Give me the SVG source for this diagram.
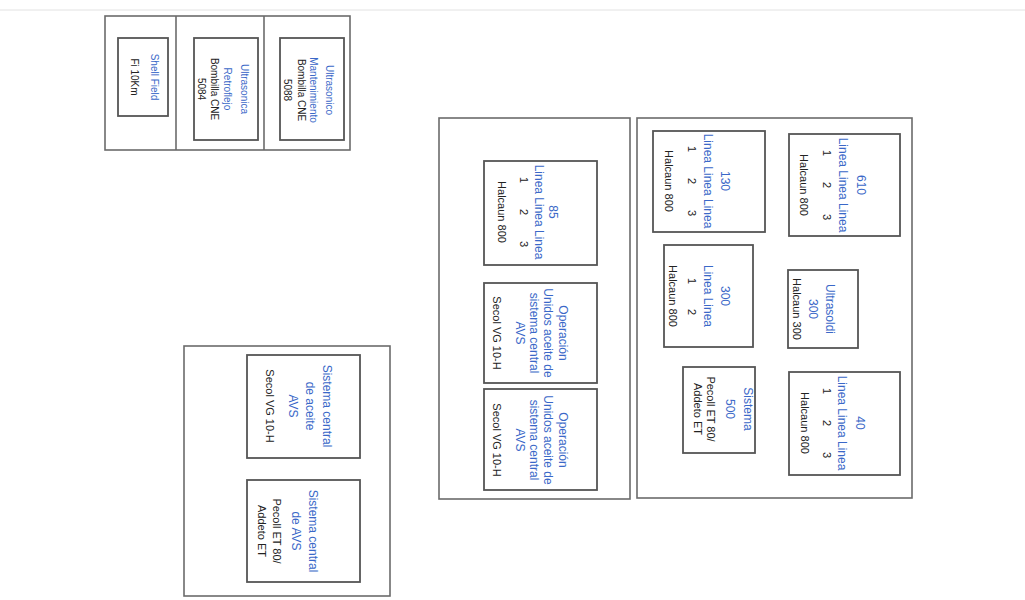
<svg xmlns="http://www.w3.org/2000/svg" width="1025" height="600" viewBox="0 0 1025 600">
<style>
.bg{fill:#ffffff}
.cont{fill:#ffffff;stroke:#6b6b6b;stroke-width:1.6}
.node{fill:#ffffff;stroke:#555555;stroke-width:1.8}
text{font-family:"Liberation Sans",Arial,sans-serif;dominant-baseline:central;text-anchor:middle}
.t{fill:#3a68c8;font-size:12px}
.k{fill:#222222;font-size:11px}
.s{font-size:10px}
</style>
<rect class="bg" x="0" y="0" width="1025" height="600"/>
<line x1="0" y1="10" x2="1025" y2="10" stroke="#e2e2e2" stroke-width="1"/>
<g id="containers">
<g id="top-group">
<rect class="cont" x="105" y="16" width="245" height="134"/>
<line x1="176" y1="16" x2="176" y2="150" stroke="#6b6b6b" stroke-width="1.6"/>
<line x1="264" y1="16" x2="264" y2="150" stroke="#6b6b6b" stroke-width="1.6"/>
</g>
<rect id="middle-group" class="cont" x="439" y="118" width="191" height="381"/>
<rect id="right-group" class="cont" x="637" y="118" width="275" height="380"/>
<rect id="bottom-group" class="cont" x="184" y="346" width="206" height="250"/>
</g>
<g id="connectors"></g>
<g id="n-shell">
<rect class="node" x="118" y="38" width="50" height="78"/>
<text transform="translate(155,77) rotate(90)"><tspan class="t s" x="0" y="0">Shell Field</tspan><tspan class="k s" x="0" y="20">Fi 10Km</tspan></text>
</g>
<g id="n-ultra1">
<rect class="node" x="194" y="38" width="64" height="102"/>
<text transform="translate(245,89) rotate(90)"><tspan class="t s" x="0" y="0">Ultrasonica</tspan><tspan class="t s" x="0" y="17">Retroflejo</tspan><tspan class="k s" x="0" y="30">Bombilla CNE</tspan><tspan class="k s" x="0" y="43">5084</tspan></text>
</g>
<g id="n-ultra2">
<rect class="node" x="280" y="38" width="64" height="102"/>
<text transform="translate(330,90) rotate(90)"><tspan class="t s" x="0" y="0">Ultrasonico</tspan><tspan class="t s" x="0" y="16">Mantenimiento</tspan><tspan class="k s" x="0" y="28">Bombilla CNE</tspan><tspan class="k s" x="0" y="42">5088</tspan></text>
</g>
<g id="n-85">
<rect class="node" x="484" y="161" width="113" height="104"/>
<text transform="translate(553,212) rotate(90)"><tspan class="t" x="0" y="0">85</tspan><tspan class="t" x="0" y="14">Linea Linea Linea</tspan><tspan class="k" x="-32" y="29">1</tspan><tspan class="k" x="0" y="29">2</tspan><tspan class="k" x="32" y="29">3</tspan><tspan class="k" x="0" y="51">Halcaun 800</tspan></text>
</g>
<g id="n-op1">
<rect class="node" x="484" y="283" width="113" height="100"/>
<text transform="translate(563,333) rotate(90)"><tspan class="t" x="0" y="0">Operación</tspan><tspan class="t" x="0" y="15">Unidos aceite de</tspan><tspan class="t" x="0" y="29">sistema central</tspan><tspan class="t" x="0" y="43">AVS</tspan><tspan class="k" x="0" y="66">Secol VG 10-H</tspan></text>
</g>
<g id="n-op2">
<rect class="node" x="484" y="389" width="113" height="101"/>
<text transform="translate(563,440) rotate(90)"><tspan class="t" x="0" y="0">Operación</tspan><tspan class="t" x="0" y="15">Unidos aceite de</tspan><tspan class="t" x="0" y="29">sistema central</tspan><tspan class="t" x="0" y="43">AVS</tspan><tspan class="k" x="0" y="66">Secol VG 10-H</tspan></text>
</g>
<g id="n-130">
<rect class="node" x="653" y="131" width="112" height="101"/>
<text transform="translate(725,181) rotate(90)"><tspan class="t" x="0" y="0">130</tspan><tspan class="t" x="0" y="17">Linea Linea Linea</tspan><tspan class="k" x="-32" y="33">1</tspan><tspan class="k" x="0" y="33">2</tspan><tspan class="k" x="32" y="33">3</tspan><tspan class="k" x="0" y="56">Halcaun 800</tspan></text>
</g>
<g id="n-610">
<rect class="node" x="789" y="134" width="111" height="102"/>
<text transform="translate(861,185) rotate(90)"><tspan class="t" x="0" y="0">610</tspan><tspan class="t" x="0" y="18">Linea Linea Linea</tspan><tspan class="k" x="-32" y="34">1</tspan><tspan class="k" x="0" y="34">2</tspan><tspan class="k" x="32" y="34">3</tspan><tspan class="k" x="0" y="57">Halcaun 800</tspan></text>
</g>
<g id="n-300">
<rect class="node" x="664" y="245" width="89" height="102"/>
<text transform="translate(725,296) rotate(90)"><tspan class="t" x="0" y="0">300</tspan><tspan class="t" x="0" y="17">Linea Linea</tspan><tspan class="k" x="-15" y="33">1</tspan><tspan class="k" x="16" y="33">2</tspan><tspan class="k" x="0" y="52">Halcaun 800</tspan></text>
</g>
<g id="n-ultrasoldi">
<rect class="node" x="788" y="270" width="70" height="78"/>
<text transform="translate(830,309) rotate(90)"><tspan class="t" x="0" y="0">Ultrasoldi</tspan><tspan class="t" x="0" y="17">300</tspan><tspan class="k" x="0" y="33">Halcaun 300</tspan></text>
</g>
<g id="n-sistema500">
<rect class="node" x="683" y="367" width="72" height="86"/>
<text transform="translate(748,409) rotate(90)"><tspan class="t" x="0" y="0">Sistema</tspan><tspan class="t" x="0" y="18">500</tspan><tspan class="k" x="0" y="37">Pecoll ET 80/</tspan><tspan class="k" x="0" y="50">Addeto ET</tspan></text>
</g>
<g id="n-40">
<rect class="node" x="789" y="372" width="111" height="103"/>
<text transform="translate(860,423) rotate(90)"><tspan class="t" x="0" y="0">40</tspan><tspan class="t" x="0" y="18">Linea Linea Linea</tspan><tspan class="k" x="-32" y="33">1</tspan><tspan class="k" x="0" y="33">2</tspan><tspan class="k" x="32" y="33">3</tspan><tspan class="k" x="0" y="55">Halcaun 800</tspan></text>
</g>
<g id="n-central1">
<rect class="node" x="247" y="355" width="113" height="103"/>
<text transform="translate(327,406) rotate(90)"><tspan class="t" x="0" y="0">Sistema central</tspan><tspan class="t" x="0" y="17">de aceite</tspan><tspan class="t" x="0" y="34">AVS</tspan><tspan class="k" x="0" y="57">Secol VG 10-H</tspan></text>
</g>
<g id="n-central2">
<rect class="node" x="247" y="480" width="113" height="102"/>
<text transform="translate(313,531) rotate(90)"><tspan class="t" x="0" y="0">Sistema central</tspan><tspan class="t" x="0" y="17">de AVS</tspan><tspan class="k" x="0" y="36">Pecoll ET 80/</tspan><tspan class="k" x="0" y="51">Addeto ET</tspan></text>
</g>
</svg>
